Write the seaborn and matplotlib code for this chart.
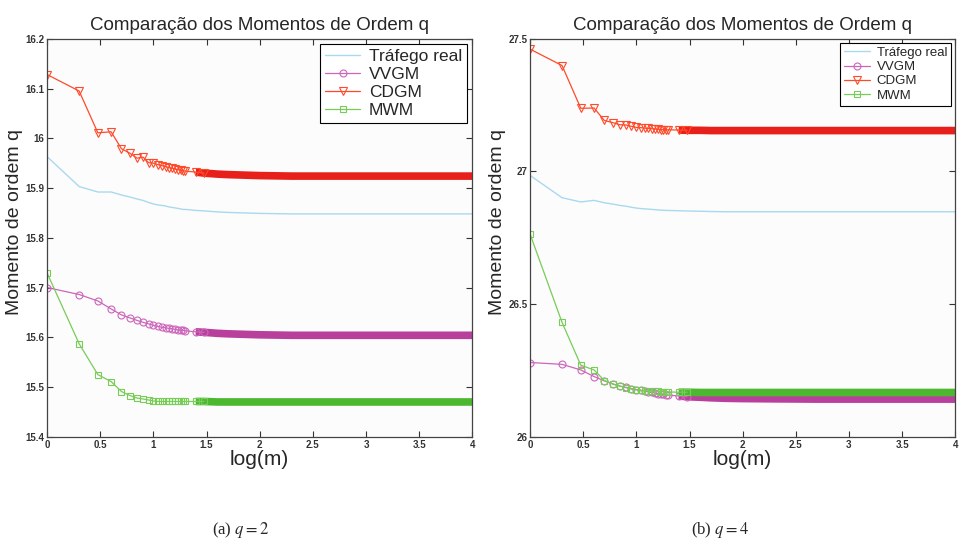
import numpy as np
import pandas as pd
import seaborn as sns
import matplotlib.pyplot as plt
from matplotlib.ticker import FormatStrFormatter

# sample sizes m (x axis is log10(m))
m_vals = [1, 2, 3, 4, 5, 6, 7, 8, 9, 10, 11, 12, 13, 14, 15, 16, 17, 18, 19, 20,
          25, 30, 40, 50, 70, 100, 200, 500, 1000, 10000]

# q = 2
real_q2 = [15.963, 15.903, 15.892, 15.892, 15.886, 15.882, 15.878, 15.875, 15.871, 15.868,
           15.866, 15.865, 15.864, 15.862, 15.861, 15.860, 15.859, 15.858, 15.857, 15.857,
           15.855, 15.854, 15.852, 15.851, 15.850, 15.849, 15.848, 15.848, 15.848, 15.848]
vvgm_q2 = [15.700, 15.686, 15.673, 15.657, 15.645, 15.639, 15.634, 15.630, 15.627, 15.624,
           15.622, 15.620, 15.619, 15.618, 15.617, 15.616, 15.615, 15.614, 15.614, 15.613,
           15.611, 15.610, 15.608, 15.607, 15.606, 15.605, 15.604, 15.604, 15.604, 15.604]
cdgm_q2 = [16.128, 16.095, 16.011, 16.013, 15.979, 15.970, 15.960, 15.962, 15.951, 15.950,
           15.947, 15.945, 15.943, 15.941, 15.940, 15.938, 15.937, 15.936, 15.935, 15.934,
           15.932, 15.930, 15.928, 15.927, 15.926, 15.925, 15.924, 15.924, 15.924, 15.924]
mwm_q2 = [15.729, 15.587, 15.525, 15.511, 15.491, 15.483, 15.478, 15.476, 15.474, 15.472,
          15.471, 15.471, 15.471, 15.471, 15.471, 15.471, 15.471, 15.471, 15.471, 15.471,
          15.471, 15.471, 15.470, 15.470, 15.470, 15.470, 15.470, 15.470, 15.470, 15.470]

# q = 4
real_q4 = [26.985, 26.901, 26.885, 26.891, 26.882, 26.877, 26.872, 26.869, 26.865, 26.862,
           26.860, 26.859, 26.858, 26.857, 26.856, 26.855, 26.854, 26.854, 26.853, 26.853,
           26.852, 26.851, 26.850, 26.849, 26.848, 26.848, 26.848, 26.848, 26.848, 26.848]
vvgm_q4 = [26.280, 26.273, 26.252, 26.227, 26.211, 26.199, 26.191, 26.186, 26.181, 26.178,
           26.175, 26.172, 26.169, 26.167, 26.165, 26.163, 26.161, 26.160, 26.158, 26.157,
           26.154, 26.151, 26.149, 26.147, 26.145, 26.144, 26.143, 26.142, 26.142, 26.142]
cdgm_q4 = [27.461, 27.399, 27.238, 27.239, 27.192, 27.184, 27.176, 27.175, 27.170, 27.166,
           27.165, 27.163, 27.162, 27.161, 27.160, 27.159, 27.158, 27.158, 27.157, 27.157,
           27.156, 27.155, 27.155, 27.154, 27.154, 27.154, 27.154, 27.154, 27.154, 27.154]
mwm_q4 = [26.764, 26.431, 26.270, 26.252, 26.212, 26.199, 26.191, 26.185, 26.180, 26.177,
          26.175, 26.174, 26.173, 26.172, 26.171, 26.171, 26.170, 26.170, 26.169, 26.169,
          26.168, 26.168, 26.167, 26.167, 26.167, 26.167, 26.167, 26.167, 26.167, 26.167]

LIGHT_BLUE = "#a9d9ee"
PURPLE = "#cc66bb"
PURPLE_DARK = "#b8409c"
RED = "#ff4a2a"
RED_DARK = "#e8201c"
GREEN = "#78cc58"
GREEN_DARK = "#4cb830"

sns.set_theme(style="white")
plt.rcParams['font.family'] = ['Liberation Sans', 'DejaVu Sans']
plt.rcParams['mathtext.fontset'] = 'stix'


def draw_panel(ax, real, vvgm, cdgm, mwm, ylim, yticks, legend_size):
    df = pd.DataFrame({'logm': np.log10(m_vals), 'real': real, 'vvgm': vvgm,
                       'cdgm': cdgm, 'mwm': mwm, 'm': m_vals})
    head = df[df['m'] <= 30]
    tail = df[df['m'] >= 25]

    sns.lineplot(data=df, x='logm', y='real', color=LIGHT_BLUE, lw=1.0,
                 label='Tráfego real', ax=ax, sort=False)
    series = [('vvgm', 'VVGM', 'o', PURPLE, PURPLE_DARK, 5),
              ('cdgm', 'CDGM', 'v', RED, RED_DARK, 6),
              ('mwm', 'MWM', 's', GREEN, GREEN_DARK, 4.5)]
    for col, name, mk, c, cdark, ms in series:
        # dense overlapping markers become a solid band in the tail
        sns.lineplot(data=tail, x='logm', y=col, color=cdark, lw=5.5,
                     ax=ax, sort=False, legend=False, solid_capstyle='butt')
        sns.lineplot(data=head, x='logm', y=col, color=c, lw=0.9, marker=mk,
                     markersize=ms, markerfacecolor='none', markeredgecolor=c,
                     markeredgewidth=0.8, label=name, ax=ax, sort=False)

    ax.set_xlim(0, 4)
    ax.set_ylim(*ylim)
    ax.set_xticks([0, 0.5, 1, 1.5, 2, 2.5, 3, 3.5, 4])
    ax.set_yticks(yticks)
    ax.xaxis.set_major_formatter(FormatStrFormatter('%g'))
    ax.yaxis.set_major_formatter(FormatStrFormatter('%g'))
    ax.tick_params(direction='in', length=4, width=0.8, top=True, right=True,
                   bottom=True, left=True, labelsize=7, pad=2, colors='#333333')
    for lab in ax.get_xticklabels() + ax.get_yticklabels():
        lab.set_fontweight('bold')
    ax.set_facecolor('#fcfcfc')
    for sp in ax.spines.values():
        sp.set_color('#444444')
        sp.set_linewidth(0.9)

    ax.set_title('Comparação dos Momentos de Ordem q', fontsize=13.5, pad=6)
    ax.set_xlabel('log(m)', fontsize=15, labelpad=0)
    ax.set_ylabel('Momento de ordem q', fontsize=14)
    ax.yaxis.set_label_coords(-0.056, 0.54)
    leg = ax.legend(loc='upper right', fontsize=legend_size, frameon=True,
                    fancybox=False, framealpha=1, edgecolor='black',
                    borderaxespad=0.3, handlelength=2.0, numpoints=1,
                    borderpad=0.3, labelspacing=0.15, handletextpad=0.5)
    leg.get_frame().set_linewidth(0.8)


fig = plt.figure(figsize=(9.62, 5.46), dpi=100)
fig.patch.set_facecolor('white')
ax_a = fig.add_axes([0.049, 0.2, 0.442, 0.729])
ax_b = fig.add_axes([0.551, 0.2, 0.442, 0.729])

draw_panel(ax_a, real_q2, vvgm_q2, cdgm_q2, mwm_q2, (15.4, 16.2),
           [15.4, 15.5, 15.6, 15.7, 15.8, 15.9, 16.0, 16.1, 16.2], 12.5)
draw_panel(ax_b, real_q4, vvgm_q4, cdgm_q4, mwm_q4, (26.0, 27.5),
           [26.0, 26.5, 27.0, 27.5], 9.5)

fig.text(0.25, 0.029, '(a) $q = 2$', ha='center', va='center', fontsize=12,
         family=['Liberation Serif', 'DejaVu Serif'])
fig.text(0.748, 0.029, '(b) $q = 4$', ha='center', va='center', fontsize=12,
         family=['Liberation Serif', 'DejaVu Serif'])

fig.savefig('out.png', dpi=100)
